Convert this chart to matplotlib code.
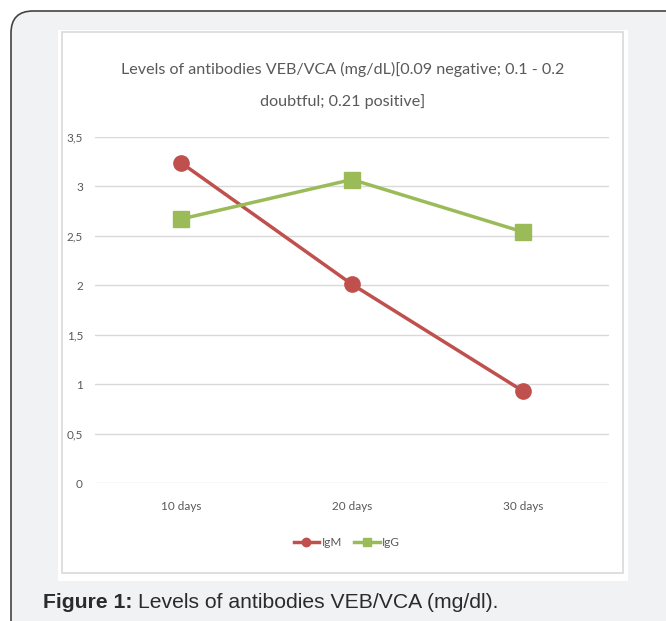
import matplotlib.pyplot as plt
from matplotlib.patches import FancyBboxPatch, Rectangle

# antibody levels VEB/VCA over time
days = ['10 days', '20 days', '30 days']
igm = [3.24, 2.01, 0.93]
igg = [2.67, 3.07, 2.54]
yticks = [0, 0.5, 1, 1.5, 2, 2.5, 3, 3.5]
ytick_labels = ['0', '0,5', '1', '1,5', '2', '2,5', '3', '3,5']

red = '#c0504d'
green = '#9bbb59'
txt_gray = '#595959'
narrow = ['Lato', 'DejaVu Sans']

W, H = 666, 621
fig = plt.figure(figsize=(W / 100, H / 100), dpi=100)

# page background drawn in pixel coordinates
bg = fig.add_axes([0, 0, 1, 1])
bg.set_xlim(0, W)
bg.set_ylim(H, 0)
bg.axis('off')
bg.add_patch(FancyBboxPatch((11, 11), 680, 640, boxstyle='round,pad=0,rounding_size=22',
                            facecolor='#f1f2f4', edgecolor='#444444', linewidth=1.2))
bg.add_patch(Rectangle((58, 30), 570, 551, facecolor='white', edgecolor='none'))
bg.add_patch(Rectangle((62, 32), 561, 541, facecolor='none', edgecolor='#d9d9d9', linewidth=1.2))

t1 = bg.text(43, 608, 'Figure 1:', fontsize=15.2, fontweight='bold', color='#2b2b2b',
             family='Liberation Sans', va='baseline')
fig.canvas.draw()
ext = t1.get_window_extent()
bg.text(43 + ext.width + 5, 608, 'Levels of antibodies VEB/VCA (mg/dl).', fontsize=15.2,
        color='#2b2b2b', family='Liberation Sans', va='baseline')

bg.text(343, 74, 'Levels of antibodies VEB/VCA (mg/dL)[0.09 negative; 0.1 - 0.2',
        fontsize=11.6, color=txt_gray, family=narrow, ha='center', va='baseline')
bg.text(343, 106, 'doubtful; 0.21 positive]',
        fontsize=11.6, color=txt_gray, family=narrow, ha='center', va='baseline')

ax = fig.add_axes([95.5 / W, 1 - 483 / H, 513 / W, 346 / H])
ax.patch.set_alpha(0)
x = list(range(len(days)))
ax.plot(x, igm, color=red, linewidth=2.5, marker='o', markersize=11, label='IgM', zorder=3)
ax.plot(x, igg, color=green, linewidth=2.5, marker='s', markersize=11, label='IgG', zorder=3)
ax.set_xlim(-0.5, 2.5)
ax.set_ylim(0, 3.5)
ax.set_yticks(yticks)
ax.set_yticklabels(ytick_labels, family=narrow, fontsize=8.5, color=txt_gray)
ax.set_xticks(x)
ax.set_xticklabels(days, family=narrow, fontsize=8.5, color=txt_gray)
ax.tick_params(length=0)
ax.tick_params(axis='y', pad=9)
ax.tick_params(axis='x', pad=13)
ax.grid(axis='y', color='#d9d9d9', linewidth=1)
for s in ax.spines.values():
    s.set_visible(False)

ax.legend(loc='upper center', bbox_to_anchor=(0.49, -0.125), ncol=2, frameon=False,
          prop={'family': narrow, 'size': 8.5}, labelcolor=txt_gray, markerscale=0.55,
          handlelength=2.2, handletextpad=0.2, columnspacing=1.0)

fig.savefig('out.png', dpi=100)
